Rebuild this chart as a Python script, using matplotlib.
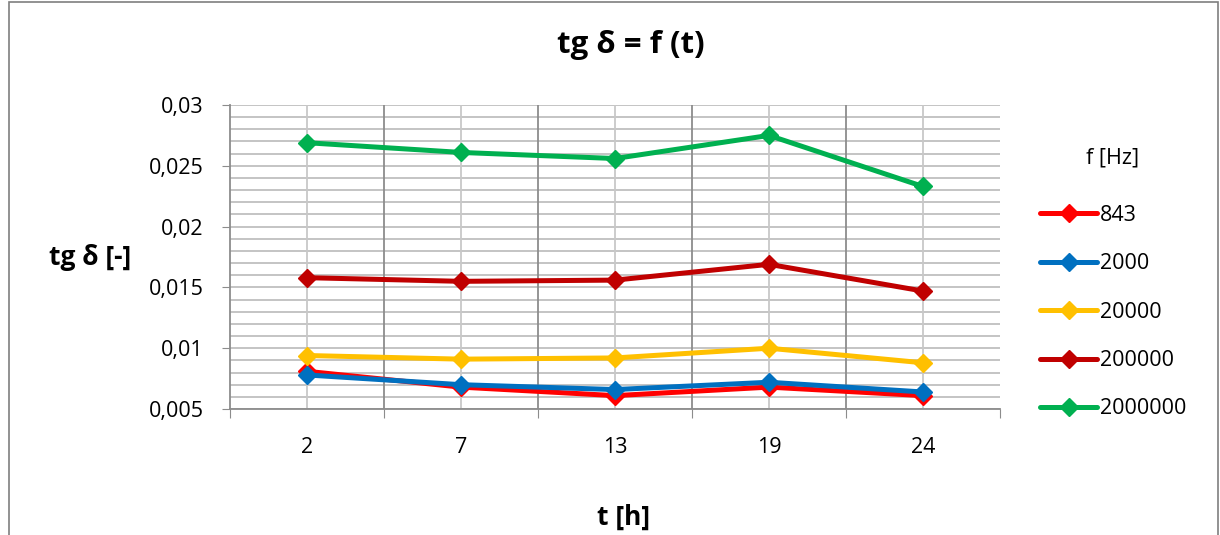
import numpy as np
import matplotlib.pyplot as plt
from matplotlib.patches import Rectangle

plt.rcParams['font.family'] = ['Open Sans', 'DejaVu Sans']

# czas pomiaru [h]
hours = ['2', '7', '13', '19', '24']
freqs = ['843', '2000', '20000', '200000', '2000000']
colors = ['#FF0000', '#0070C0', '#FFC000', '#C00000', '#00B050']

tg_843 = [0.0081, 0.0068, 0.0061, 0.0068, 0.0061]
tg_2000 = [0.0078, 0.0070, 0.0066, 0.0072, 0.0064]
tg_20000 = [0.0094, 0.0091, 0.0092, 0.0100, 0.0088]
tg_200000 = [0.0158, 0.0155, 0.0156, 0.0169, 0.0147]
tg_2000000 = [0.0269, 0.0261, 0.0256, 0.0275, 0.0233]
series = [tg_843, tg_2000, tg_20000, tg_200000, tg_2000000]

ytick_labels = ['0,005', '0,01', '0,015', '0,02', '0,025', '0,03']

fig = plt.figure(figsize=(12.2, 5.35), dpi=100)
fig.patches.append(Rectangle((0.007, -0.01), 0.991, 1.006, transform=fig.transFigure,
                             fill=False, edgecolor='#7f7f7f', linewidth=1.2))
ax = fig.add_axes([0.1885, 0.2355, 0.6312, 0.5682])

x = np.arange(len(hours))
for vals, lab, c in zip(series, freqs, colors):
    ax.plot(x, vals, color=c, linewidth=3.6, marker='D', markersize=9,
            label=lab, solid_capstyle='round', zorder=3)

ax.set_xlim(-0.5, len(hours) - 0.5)
ax.set_ylim(0.005, 0.03)

# siatka
for yv in np.arange(0.005, 0.0301, 0.001):
    ax.axhline(yv, color='#bfbfbf', linewidth=1.3, zorder=1)
for xv in x:
    ax.axvline(xv, color='#c8c8c8', linewidth=1.3, zorder=1)
for xv in np.arange(0.5, len(hours) - 0.5, 1):
    ax.axvline(xv, color='#8c8c8c', linewidth=1.3, zorder=1)

ax.set_yticks(np.arange(0.005, 0.0301, 0.005))
ax.set_yticklabels(ytick_labels, fontsize=15.5)
ax.set_xticks(np.arange(-0.5, len(hours), 1))
ax.set_xticklabels([])
ax.set_xticks(x, minor=True)
ax.set_xticklabels(hours, minor=True, fontsize=15.5)
ax.tick_params(axis='x', which='major', length=6.5, color='#8c8c8c', direction='out')
ax.tick_params(axis='x', which='minor', length=0, pad=20)
ax.tick_params(axis='y', length=6, color='#8c8c8c', direction='out', pad=13)

for s in ['top', 'right']:
    ax.spines[s].set_visible(False)
ax.spines['left'].set_color('#8c8c8c')
ax.spines['bottom'].set_color('#8c8c8c')
ax.spines['left'].set_linewidth(1.3)
ax.spines['bottom'].set_linewidth(1.3)

fig.text(0.517, 0.915, 'tg δ = f (t)', ha='center', va='center', fontsize=22.5, fontweight='bold')
fig.text(0.074, 0.518, 'tg δ [-]', ha='center', va='center', fontsize=19, fontweight='bold')
fig.text(0.511, 0.034, 't [h]', ha='center', va='center', fontsize=19, fontweight='bold')

ax.legend(loc='upper left', bbox_to_anchor=(1.052, 0.671), frameon=False,
          fontsize=15.5, handlelength=2.65, handletextpad=0.14,
          labelspacing=1.27, borderaxespad=0, borderpad=0)
fig.text(0.912, 0.705, 'f [Hz]', ha='center', va='center', fontsize=15.5)

fig.savefig('out.png', dpi=100)
